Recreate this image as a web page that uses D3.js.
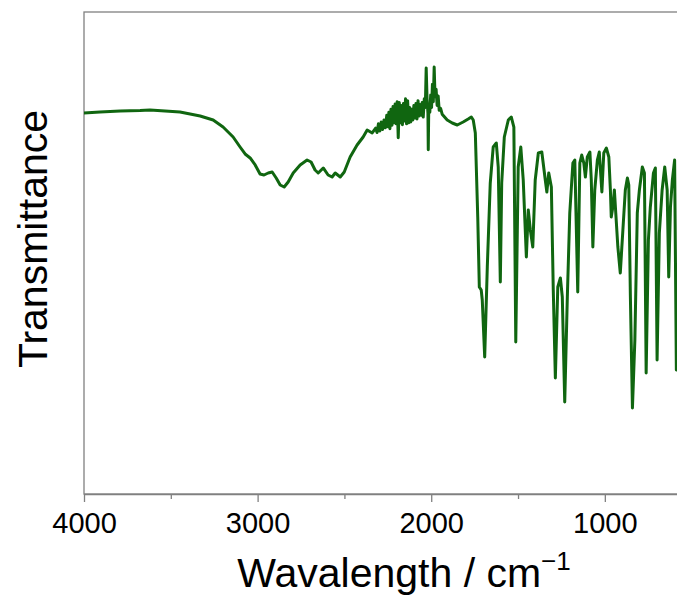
<!DOCTYPE html>
<html>
<head>
<meta charset="utf-8">
<script src="https://cdn.jsdelivr.net/npm/d3@7"></script>
<style>
  body { margin: 0; background: #fff; }
  text { font-family: "Liberation Sans", Arial, sans-serif; fill: #000; }
</style>
</head>
<body>
<div id="irPlot"></div>
<script>
// Spectrum: wavenumber (cm-1) and transmittance (arb. %)
var wavenumbers = [4000, 3908, 3792, 3677, 3620, 3533, 3447, 3331, 3256, 3199, 3141, 3101, 3072, 3043, 3014,
    2986, 2963, 2939, 2916, 2893, 2870, 2847, 2824, 2795, 2755, 2715, 2692, 2669, 2651, 2622, 2594, 2571, 2553,
    2524, 2501, 2467, 2427, 2392, 2369, 2340,
    2320, 2312, 2304, 2296, 2288, 2280, 2272, 2264, 2256, 2250, 2244, 2238, 2232, 2226, 2220, 2214, 2208, 2202,
    2196, 2190, 2184, 2178, 2172, 2166, 2160, 2154, 2148, 2142, 2136, 2130, 2124, 2118, 2112, 2106, 2100, 2094,
    2088, 2082, 2076, 2070, 2064, 2058, 2052, 2046, 2040, 2034, 2029, 2024, 2019, 2017, 2014, 2008, 2003, 1998,
    1993, 1988, 1983, 1978, 1972, 1966, 1960, 1954, 1946, 1937,
    1908, 1879, 1850, 1816, 1787, 1769, 1758, 1746, 1732, 1723, 1712, 1706,
    1692, 1677, 1660, 1643, 1625, 1614, 1602, 1594, 1579, 1556, 1539, 1524, 1513, 1499, 1484, 1470, 1452, 1441,
    1429, 1415, 1401, 1383, 1363, 1343, 1334, 1323, 1308, 1297, 1285, 1271, 1256, 1245, 1231, 1216, 1202, 1184,
    1173, 1156, 1144, 1133, 1121, 1112, 1101, 1086, 1078, 1069, 1058, 1043, 1032, 1017, 1006, 991, 977, 968, 963,
    954, 945, 937, 925, 911, 896, 882, 870, 862, 853, 841, 827, 813, 801, 784, 772, 762, 749, 738, 720, 709, 699,
    686, 670, 655, 641, 632, 622, 611, 598, 588, 565, 536];
var transmittance = [79.05, 79.25, 79.46, 79.56, 79.67, 79.46, 79.25, 78.42, 77.59, 76.14, 74.07, 71.99, 70.54, 69.71, 68.26,
    66.39, 66.18, 66.60, 66.81, 65.56, 64.11, 63.69, 64.73, 66.60, 68.26, 69.29, 68.88, 67.22, 66.60, 67.64, 66.18, 65.77, 66.60,
    65.77, 66.81, 69.92, 72.41, 74.07, 75.52, 74.90,
    75.9, 75.0, 76.8, 75.3, 77.2, 75.6, 77.6, 76.0, 78.6, 76.2, 79.2, 75.8, 79.8, 76.5, 80.4, 77.0, 80.9, 76.8,
    81.4, 73.9, 81.2, 77.0, 80.6, 76.6, 81.0, 77.4, 82.0, 76.8, 81.6, 77.0, 80.2, 77.2, 79.8, 77.6, 80.6, 78.0,
    81.0, 77.8, 81.6, 78.4, 80.8, 78.6, 81.2, 78.2, 82.0, 80.2, 88.4, 82.0, 79.0, 71.4, 80.6, 79.2, 82.8, 80.2,
    85.0, 81.4, 88.6, 82.4, 84.0, 80.6, 82.6, 79.6, 80.0, 78.8,
    77.59, 76.97, 76.56, 77.18, 77.80, 78.22, 77.59, 74.90, 57.47, 42.95, 42.32, 40.25,
    28.42, 47.10, 64.52, 71.99, 72.82, 67.84, 43.98, 64.52, 74.07, 77.59, 78.22, 76.14, 31.54, 67.84, 71.99, 65.15, 49.17, 58.92,
    54.77, 51.25, 65.15, 70.75, 70.96, 65.15, 62.66, 66.60, 63.69, 42.32, 24.07, 42.95, 44.81, 40.87, 19.09, 40.87, 58.30, 68.67,
    69.29, 41.91, 68.67, 70.33, 68.67, 65.77, 69.92, 70.96, 65.15, 51.25, 63.07, 69.29, 70.96, 62.66, 70.75, 71.78, 69.92, 63.07, 57.47,
    59.54, 63.07, 58.30, 51.25, 45.85, 54.77, 63.07, 65.56, 64.11, 41.29, 17.84, 31.95, 58.30, 63.07, 67.84, 66.60, 25.10, 52.70, 59.54, 66.60, 67.64, 27.80,
    54.15, 63.07, 67.84, 63.07, 45.02, 59.54, 65.15, 69.29, 25.73, 50.62, 61.00];

var majorTicks = [4000, 3000, 2000, 1000];
var minorTicks = [3500, 2500, 1500];

var spectrum = wavenumbers.map(function (w, i) { return { w: w, t: transmittance[i] }; });

const margin = { top: 12, left: 84 };
const svgWidth = 677, svgHeight = 597;
const plotWidth = 625;   // the plot runs past the right edge of the picture
const plotHeight = 482;

var svg = d3.select("#irPlot").append("svg")
    .attr("width", svgWidth)
    .attr("height", svgHeight);

var g = svg.append("g")
    .attr("transform", "translate(" + margin.left + "," + margin.top + ")");

const x = d3.scaleLinear().domain([4000, 400]).range([0, plotWidth]);
const y = d3.scaleLinear().domain([0, 100]).range([plotHeight, 0]);

// Clip for the curve
g.append("clipPath").attr("id", "plotClip")
    .append("rect").attr("width", plotWidth).attr("height", plotHeight);

// Frame (grey)
g.append("rect")
    .attr("width", plotWidth)
    .attr("height", plotHeight)
    .attr("fill", "none")
    .attr("stroke", "#808080")
    .attr("stroke-width", 1.3);

// Spectrum line
var line = d3.line()
    .x(function (d) { return x(d.w); })
    .y(function (d) { return y(d.t); });

g.append("path")
    .datum(spectrum)
    .attr("clip-path", "url(#plotClip)")
    .attr("fill", "none")
    .attr("stroke", "#106610")
    .attr("stroke-width", 3)
    .attr("stroke-linejoin", "round")
    .attr("d", line);

// x axis, major ticks with labels
var xAxis = d3.axisBottom(x)
    .tickValues(majorTicks)
    .tickSize(8)
    .tickSizeOuter(0)
    .tickPadding(10)
    .tickFormat(d3.format("d"));

var axisG = g.append("g")
    .attr("transform", "translate(0," + plotHeight + ")")
    .call(xAxis);
axisG.select(".domain").attr("stroke", "#808080").attr("stroke-width", 1.3);
axisG.selectAll(".tick line").attr("stroke", "#808080").attr("stroke-width", 1.3);
axisG.selectAll(".tick text")
    .style("font-family", "'Liberation Sans', Arial, sans-serif")
    .style("font-size", "29px")
    .attr("fill", "#000");

// minor ticks
var minorG = g.append("g")
    .attr("transform", "translate(0," + plotHeight + ")")
    .call(d3.axisBottom(x).tickValues(minorTicks).tickSize(5).tickFormat(""));
minorG.select(".domain").remove();
minorG.selectAll(".tick line").attr("stroke", "#808080").attr("stroke-width", 1.3);

// x label
var xLabel = svg.append("text")
    .attr("x", 404)
    .attr("y", 587)
    .attr("text-anchor", "middle")
    .style("font-size", "41px");
xLabel.append("tspan").text("Wavalength / cm");
xLabel.append("tspan").attr("dy", -17).style("font-size", "26px").text("\u22121");

// y label
svg.append("text")
    .attr("transform", "rotate(-90)")
    .attr("x", -239)
    .attr("y", 47)
    .attr("text-anchor", "middle")
    .style("font-size", "41px")
    .text("Transmittance");
</script>
</body>
</html>
